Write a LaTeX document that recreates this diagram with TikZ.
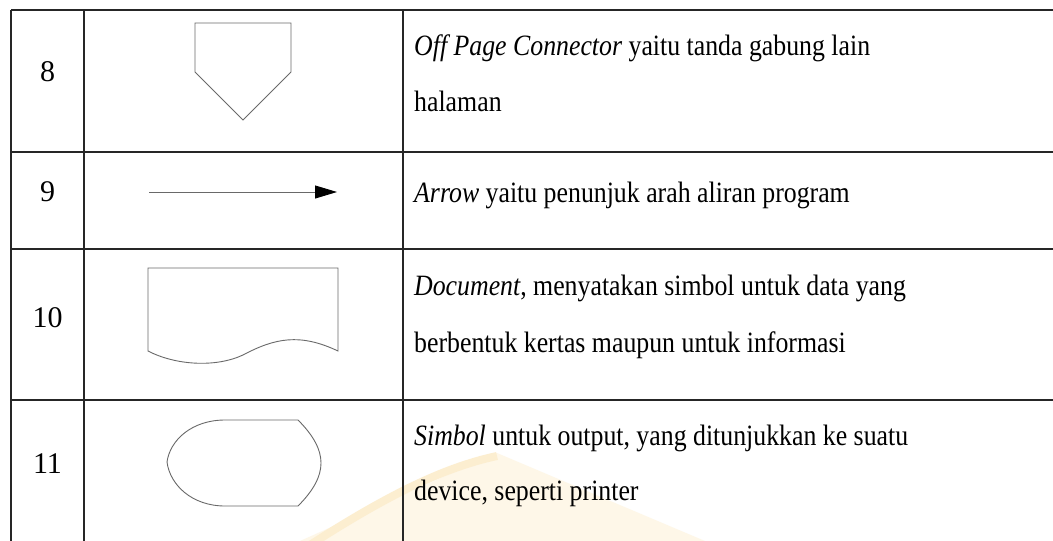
\documentclass[tikz,border=0pt]{standalone}
\usepackage{fontspec}
\setmainfont{Liberation Serif}
\newfontfamily\descfont[FakeStretch=0.875]{Liberation Serif}
\usetikzlibrary{arrows.meta}
\definecolor{wmfill}{RGB}{254,247,232}
\definecolor{wmband}{RGB}{252,238,208}
\definecolor{shapegray}{RGB}{105,105,105}
\tikzset{
  grid/.style={draw=black!85, line width=1.3pt},
  symb/.style={draw=shapegray, line width=0.9pt, line join=miter},
  numtxt/.style={inner sep=0pt, font=\fontsize{30}{30}\selectfont},
  desctxt/.style={inner sep=0pt, anchor=base west, font=\descfont\fontsize{29.5}{29.5}\selectfont},
}
\begin{document}
\begin{tikzpicture}[x=1pt, y=-1pt]
\useasboundingbox (0,0) rectangle (1053,541);
\fill[white] (0,0) rectangle (1053,541);
% faint watermark
\fill[wmfill] (497,453) -- (705,541) -- (300,541) -- cycle;
\draw[wmband, line width=8pt] (310,545) .. controls (380,500) and (440,468) .. (497,456);
% table grid
\draw[grid] (11,10) -- (1053,10);
\draw[grid] (11,152) -- (1053,152);
\draw[grid] (11,249) -- (1053,249);
\draw[grid] (11,400) -- (1053,400);
\draw[grid] (11,10) -- (11,541);
\draw[grid] (84,10) -- (84,541);
\draw[grid] (403,10) -- (403,541);
% numbers
\node[numtxt] (n8) at (47.5,72) {8};
\node[numtxt] (n9) at (47.5,192) {9};
\node[numtxt] (n10) at (47.5,318) {10};
\node[numtxt] (n11) at (47.5,464) {11};
% symbols
\draw[symb] (195,23) -- (291,23) -- (291,72) -- (243,120) -- (195,72) -- cycle;
\coordinate (a9s) at (149,192);
\coordinate (a9e) at (337,192);
\draw[draw=shapegray, line width=0.9pt, -{Triangle[length=22pt,width=13pt,color=black]}] (a9s) -- (a9e);
\draw[symb] (148,351) -- (148,268) -- (338,268) -- (338,351)
  .. controls (300,333) and (275,338) .. (243,355)
  .. controls (215,368) and (175,365) .. (148,351) -- cycle;
\draw[symb] (225,420) -- (298,420)
  .. controls (314,436) and (321,450) .. (321,463)
  .. controls (321,476) and (314,490) .. (298,506)
  -- (225,506)
  .. controls (192,506) and (170,485) .. (167,462)
  .. controls (170,440) and (192,420) .. (225,420) -- cycle;
% descriptions
\node[desctxt] (d8a) at (414,55) {\textit{Off Page Connector} yaitu tanda gabung lain};
\node[desctxt] (d8b) at (414,111) {halaman};
\node[desctxt] (d9a) at (414,202) {\textit{Arrow} yaitu penunjuk arah aliran program};
\node[desctxt] (d10a) at (414,295) {\textit{Document}, menyatakan simbol untuk data yang};
\node[desctxt] (d10b) at (414,352) {berbentuk kertas maupun untuk informasi};
\node[desctxt] (d11a) at (414,445) {\textit{Simbol} untuk output, yang ditunjukkan ke suatu};
\node[desctxt] (d11b) at (414,500) {device, seperti printer};
\end{tikzpicture}
\end{document}
